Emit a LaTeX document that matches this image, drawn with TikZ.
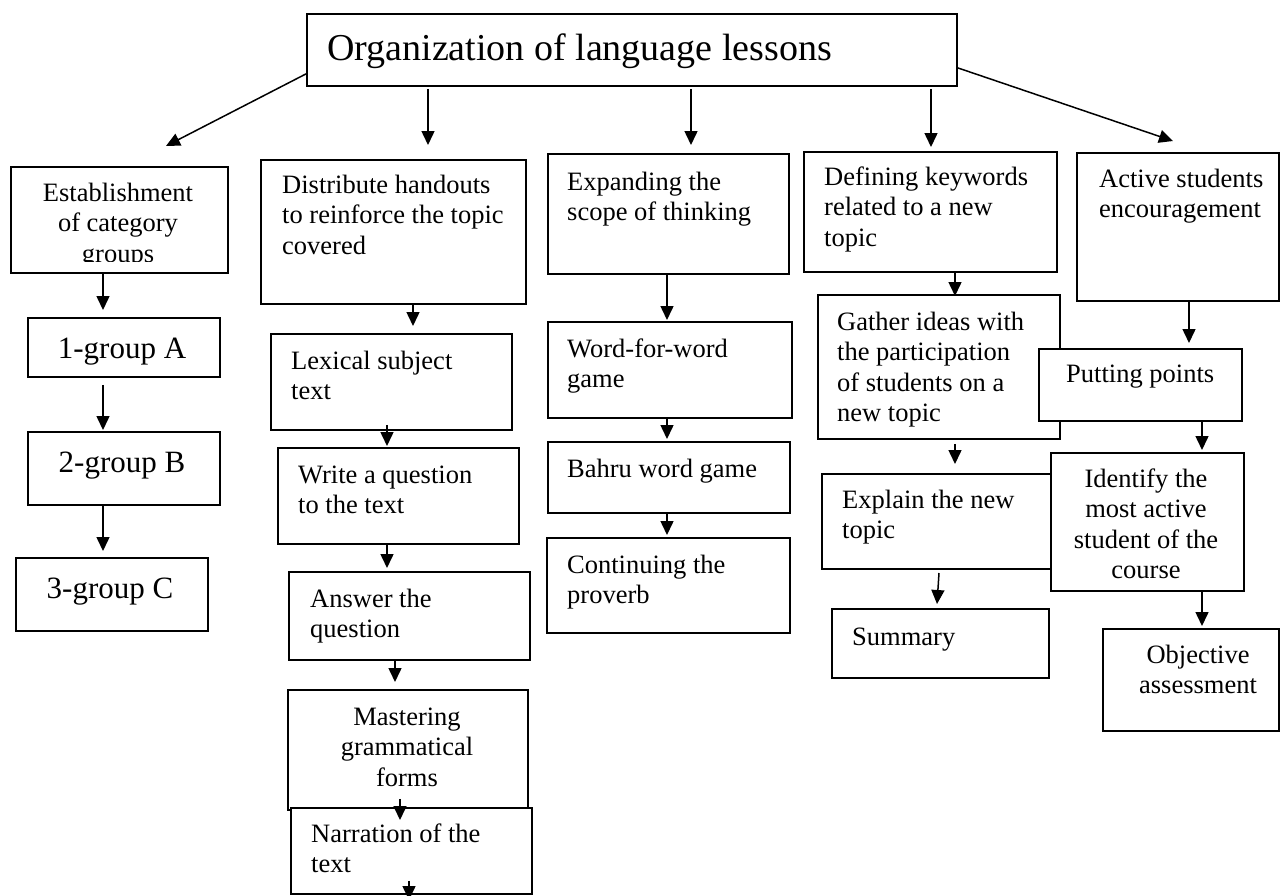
\documentclass[tikz,border=0pt]{standalone}
\usepackage{fontspec}
\setmainfont{Liberation Serif}
\usetikzlibrary{arrows.meta,calc}
\newcommand\myL[1]{\begin{tabular}[t]{@{}l@{}}#1\end{tabular}}
\newcommand\myC[1]{\begin{tabular}[t]{@{}c@{}}#1\end{tabular}}
\tikzset{
  box/.style={draw, line width=1.8pt, fill=white, inner sep=0pt, anchor=north west},
  txt/.style={inner sep=0pt, font=\fontsize{26.5}{30.5}\selectfont},
  lt/.style={txt, anchor=base west},
  ctr/.style={txt, anchor=base},
  big/.style={inner sep=0pt, anchor=base, font=\fontsize{31}{36}\selectfont},
  arr/.style={-{Triangle[width=13pt,length=14pt]}, line width=1.5pt}
}
\begin{document}
\begin{tikzpicture}[x=1pt,y=-1pt]
\useasboundingbox[fill=white] (0,0) rectangle (1280,895);

% ---------- title
\node[box, minimum width=650pt, minimum height=72pt] (title) at (306,13) {};
\node[inner sep=0pt, anchor=base west, font=\fontsize{38}{44}\selectfont] (title-t) at (327,60) {Organization of language lessons};

% ---------- column 1
\node[box, minimum width=217pt, minimum height=106pt] (est) at (10,166) {};
\begin{scope}
\clip (10,166) rectangle (227,261);
\node[ctr] (est-t) at (118,201) {\myC{Establishment\\of category\\groups}};
\end{scope}
\node[box, minimum width=192pt, minimum height=59pt] (g1) at (27,317) {};
\node[big] (g1-t) at (122,358) {1-group A};
\node[box, minimum width=192pt, minimum height=73pt] (g2) at (27,431) {};
\node[big] (g2-t) at (122,472) {2-group B};
\node[box, minimum width=192pt, minimum height=73pt] (g3) at (15,557) {};
\node[big] (g3-t) at (110,598) {3-group C};

% ---------- column 2
\node[box, minimum width=265pt, minimum height=144pt] (dist) at (260,159) {};
\node[lt] (dist-t) at (282,193) {\myL{Distribute handouts\\to reinforce the topic\\covered}};
\node[box, minimum width=241pt, minimum height=96pt] (lex) at (270,333) {};
\node[lt] (lex-t) at (291,369) {\myL{Lexical subject\\text}};
\node[box, minimum width=241pt, minimum height=96pt] (write) at (277,447) {};
\node[lt] (write-t) at (298,483) {\myL{Write a question\\to the text}};
\node[box, minimum width=241pt, minimum height=88pt] (ans) at (288,571) {};
\node[lt] (ans-t) at (310,607) {\myL{Answer the\\question}};
\node[box, minimum width=240pt, minimum height=120pt] (mast) at (287,689) {};
\node[ctr] (mast-t) at (407,725) {\myC{Mastering\\grammatical\\forms}};
\node[box, minimum width=241pt, minimum height=86pt] (narr) at (290,807) {};
\node[lt] (narr-t) at (311,842) {\myL{Narration of the\\text}};

% ---------- column 3
\node[box, minimum width=241pt, minimum height=120pt] (exp) at (547,153) {};
\node[lt] (exp-t) at (567,190) {\myL{Expanding the\\scope of thinking}};
\node[box, minimum width=244pt, minimum height=96pt] (wfw) at (547,321) {};
\node[lt] (wfw-t) at (567,357) {\myL{Word-for-word\\game}};
\node[box, minimum width=242pt, minimum height=71pt] (bahru) at (547,441) {};
\node[lt] (bahru-t) at (567,477) {Bahru word game};
\node[box, minimum width=243pt, minimum height=95pt] (cont) at (546,537) {};
\node[lt] (cont-t) at (567,573) {\myL{Continuing the\\proverb}};

% ---------- column 4
\node[box, minimum width=253pt, minimum height=120pt] (def) at (803,151) {};
\node[lt] (def-t) at (824,185) {\myL{Defining keywords\\related to a new\\topic}};
\node[box, minimum width=242pt, minimum height=144pt] (gath) at (817,294) {};
\node[lt] (gath-t) at (837,330) {\myL{Gather ideas with\\the participation\\of students on a\\new topic}};
\node[box, minimum width=239pt, minimum height=95pt] (expl) at (821,473) {};
\node[lt] (expl-t) at (842,508) {\myL{Explain the new\\topic}};
\node[box, minimum width=217pt, minimum height=69pt] (summ) at (831,608) {};
\node[lt] (summ-t) at (852,645) {Summary};

% ---------- column 5
\node[box, minimum width=202pt, minimum height=148pt] (act) at (1076,152) {};
\node[lt] (act-t) at (1099,187) {\myL{Active students\\encouragement}};
\node[box, minimum width=203pt, minimum height=72pt] (put) at (1038,348) {};
\node[lt] (put-t) at (1066,382) {Putting points};
\node[box, minimum width=193pt, minimum height=138pt] (ident) at (1050,452) {};
\node[ctr] (ident-t) at (1146,487) {\myC{Identify the\\most active\\student of the\\course}};
\node[box, minimum width=176pt, minimum height=102pt] (obj) at (1102,628) {};
\node[ctr] (obj-t) at (1198,663) {\myC{Objective\\assessment}};

% ---------- arrow end points
\coordinate (t1) at (166,146);
\coordinate (t2) at (428,145);
\coordinate (t3) at (691,145);
\coordinate (t4) at (931,147);
\coordinate (t5) at (1173,141);
\coordinate (c1a) at (103,310);
\coordinate (c1b) at (103,430);
\coordinate (c1c) at (103,551);
\coordinate (c2a) at (413,326);
\coordinate (c2b) at (387,446);
\coordinate (c2c) at (387,568);
\coordinate (c2d) at (395,682);
\coordinate (c2e) at (400,820);
\coordinate (c2f) at (409,900);
\coordinate (c3a) at (667,320);
\coordinate (c3b) at (667,439);
\coordinate (c3c) at (667,535);
\coordinate (c4a) at (955,296);
\coordinate (c4b) at (955,464);
\coordinate (c4s) at (939,573);
\coordinate (c4c) at (937,604);
\coordinate (c5a) at (1189,343);
\coordinate (c5b) at (1202,450);
\coordinate (c5c) at (1202,626);

% ---------- arrows
\draw[arr] ([yshift=-24pt]title.west) -- (t1);
\draw[arr] ([yshift=-2pt]title.south -| t2) -- (t2);
\draw[arr] ([yshift=-2pt]title.south -| t3) -- (t3);
\draw[arr] ([yshift=-2pt]title.south -| t4) -- (t4);
\draw[arr] ([yshift=-18pt]title.east) -- (t5);

\draw[arr] (est.south -| c1a) -- (c1a);
\draw[arr] ([yshift=-7pt]g1.south -| c1b) -- (c1b);
\draw[arr] (g2.south -| c1c) -- (c1c);

\draw[arr] (dist.south -| c2a) -- (c2a);
\draw[arr] ([yshift=6pt]lex.south -| c2b) -- (c2b);
\draw[arr] (write.south -| c2c) -- (c2c);
\draw[arr] (ans.south -| c2d) -- (c2d);
\draw[arr] ([yshift=12pt]mast.south -| c2e) -- (c2e);
\draw[arr] ([yshift=14pt]narr.south -| c2f) -- (c2f);

\draw[arr] (exp.south -| c3a) -- (c3a);
\draw[arr] (wfw.south -| c3b) -- (c3b);
\draw[arr] (bahru.south -| c3c) -- (c3c);

\draw[arr] (def.south -| c4a) -- (c4a);
\draw[arr] ([yshift=-4pt]gath.south -| c4b) -- (c4b);
\draw[arr] (c4s) -- (c4c);

\draw[arr] (act.south -| c5a) -- (c5a);
\draw[arr] (put.south -| c5b) -- (c5b);
\draw[arr] (ident.south -| c5c) -- (c5c);
\end{tikzpicture}
\end{document}
